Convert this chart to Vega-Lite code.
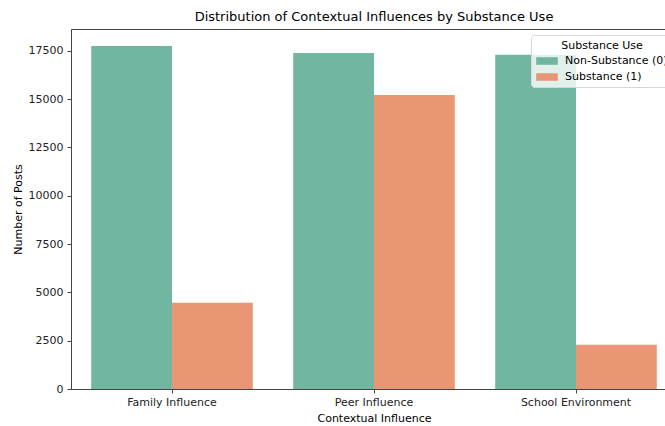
{
  "$schema": "https://vega.github.io/schema/vega-lite/v6.json",
  "autosize": {"type": "none"},
  "padding": {"left": 71, "top": 29, "right": 0, "bottom": 37},
  "width": 606,
  "height": 360,
  "title": {"text": "Distribution of Contextual Influences by Substance Use", "fontSize": 13, "font": "DejaVu Sans", "fontWeight": "normal", "color": "#000000", "offset": 5},
  "data": {
    "values": [
      {"influence": "Family Influence", "group": "Non-Substance (0)", "posts": 17745},
      {"influence": "Family Influence", "group": "Substance (1)", "posts": 4465},
      {"influence": "Peer Influence", "group": "Non-Substance (0)", "posts": 17382},
      {"influence": "Peer Influence", "group": "Substance (1)", "posts": 15210},
      {"influence": "School Environment", "group": "Non-Substance (0)", "posts": 17294},
      {"influence": "School Environment", "group": "Substance (1)", "posts": 2292}
    ]
  },
  "mark": {"type": "bar"},
  "encoding": {
    "x": {
      "field": "influence", "type": "nominal",
      "scale": {"paddingInner": 0.2, "paddingOuter": 0.1},
      "axis": {"title": "Contextual Influence", "labelAngle": 0, "labelFontSize": 11, "titleFontSize": 11, "titleFontWeight": "normal", "labelFont": "DejaVu Sans", "titleFont": "DejaVu Sans", "labelColor": "#222222", "titleColor": "#000000", "domainColor": "#444444", "tickColor": "#444444", "tickSize": 4, "labelPadding": 3, "titlePadding": 5, "grid": false}
    },
    "xOffset": {"field": "group", "type": "nominal", "scale": {"paddingInner": 0, "paddingOuter": 0}},
    "y": {
      "field": "posts", "type": "quantitative",
      "scale": {"domain": [0, 18630], "nice": false},
      "axis": {"title": "Number of Posts", "values": [0, 2500, 5000, 7500, 10000, 12500, 15000, 17500], "format": "d", "labelFontSize": 11, "titleFontSize": 11, "titleFontWeight": "normal", "labelFont": "DejaVu Sans", "titleFont": "DejaVu Sans", "labelColor": "#222222", "titleColor": "#000000", "domainColor": "#444444", "tickColor": "#444444", "tickSize": 4, "labelPadding": 4, "titlePadding": 5, "grid": false}
    },
    "color": {
      "field": "group", "type": "nominal",
      "scale": {"domain": ["Non-Substance (0)", "Substance (1)"], "range": ["#71b6a1", "#e99675"]},
      "legend": {
        "title": "Substance Use", "orient": "none", "legendX": 460, "legendY": 6,
        "titleFontSize": 11, "titleFontWeight": "normal", "titleFont": "DejaVu Sans", "titleColor": "#000000", "titleAnchor": "middle",
        "labelFontSize": 11, "labelFont": "DejaVu Sans", "labelColor": "#000000", "labelOffset": 7,
        "symbolType": "M-1,-0.35H1V0.35H-1Z", "symbolSize": 467, "symbolStrokeWidth": 0, "symbolOpacity": 1,
        "fillColor": "rgba(255,255,255,0.8)", "strokeColor": "#d6d6d6", "cornerRadius": 3, "padding": 5, "rowPadding": 0, "titlePadding": -1
      }
    }
  },
  "config": {
    "view": {"stroke": "#444444", "strokeWidth": 1},
    "background": "#ffffff"
  }
}
